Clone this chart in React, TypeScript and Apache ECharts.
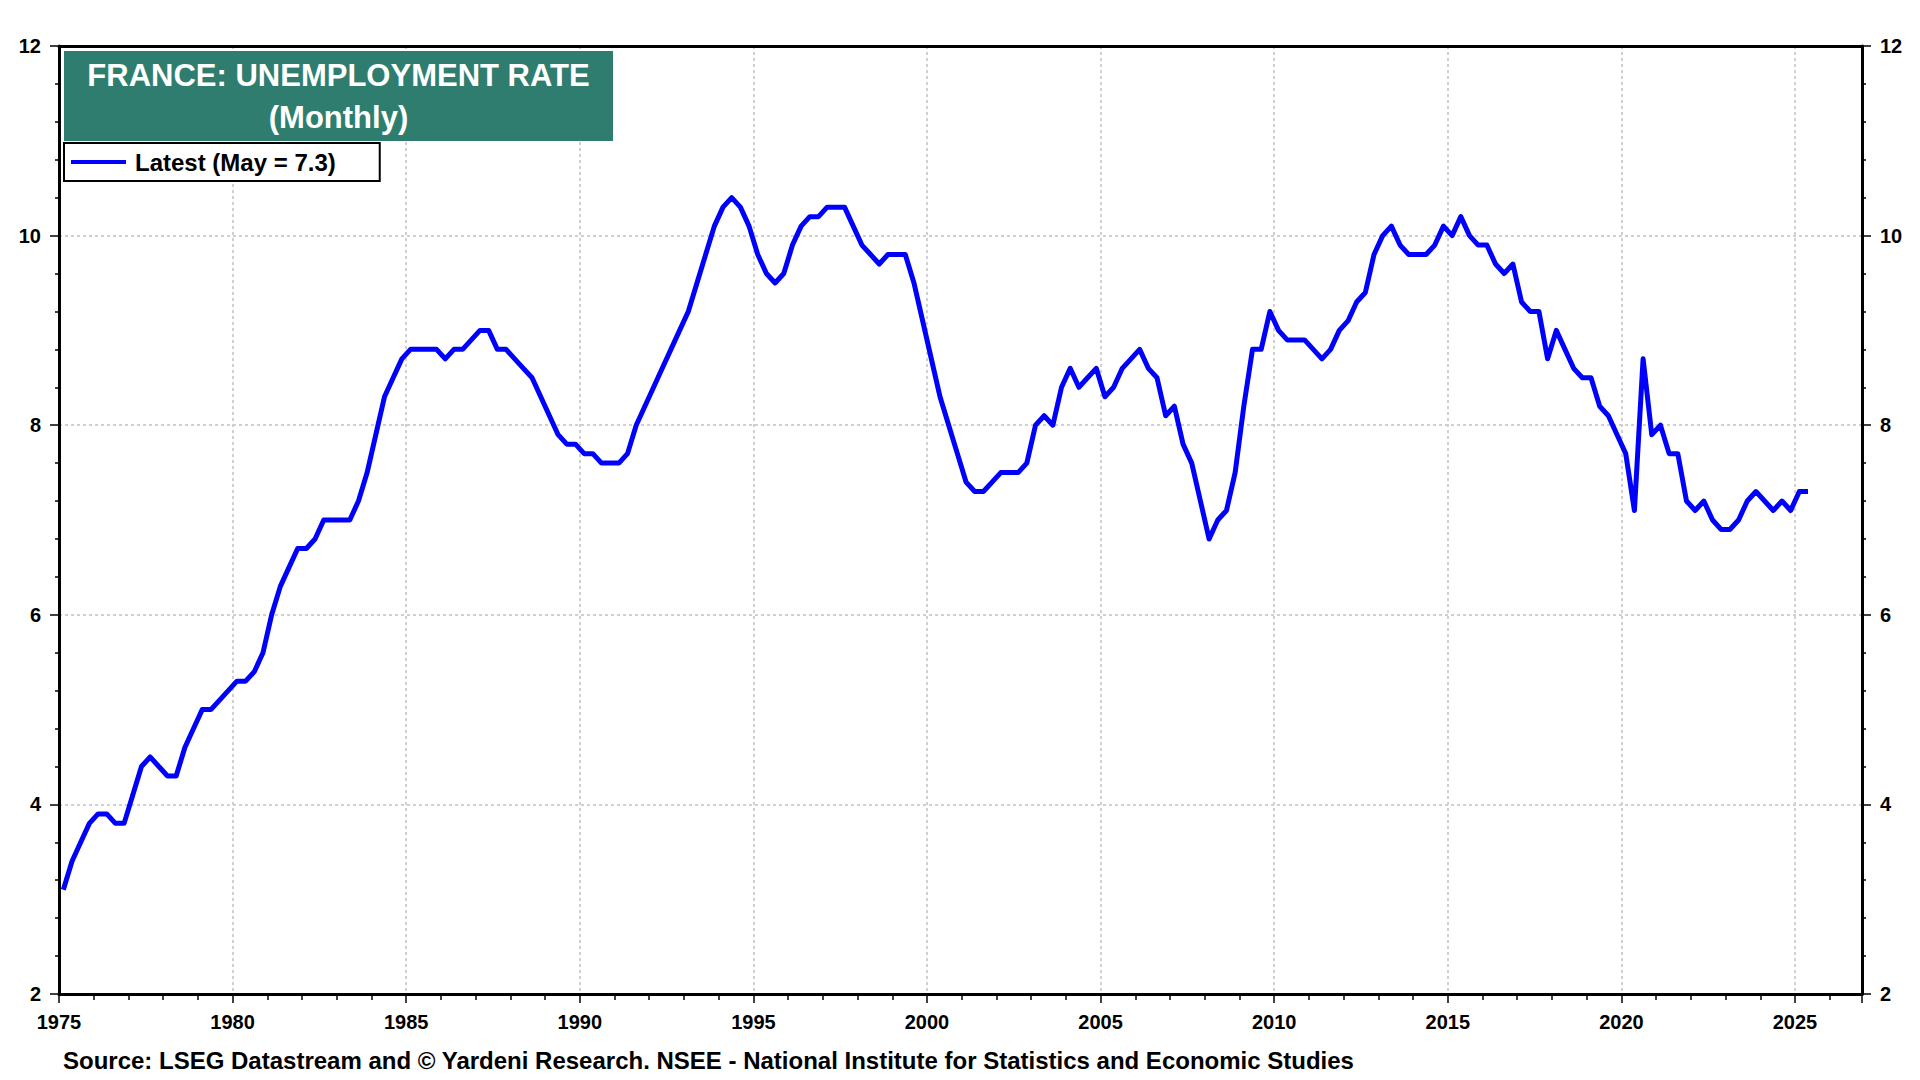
import React, { useEffect, useRef } from "react";
import * as echarts from "echarts";

// Quarterly unemployment rate (%), plotted at the middle month of each quarter
const START_YEAR = 1975;
const QUARTER_MONTHS = [2, 5, 8, 11];

const rate1975to1984 = [
  3.1, 3.4, 3.6, 3.8,
  3.9, 3.9, 3.8, 3.8,
  4.1, 4.4, 4.5, 4.4,
  4.3, 4.3, 4.6, 4.8,
  5.0, 5.0, 5.1, 5.2,
  5.3, 5.3, 5.4, 5.6,
  6.0, 6.3, 6.5, 6.7,
  6.7, 6.8, 7.0, 7.0,
  7.0, 7.0, 7.2, 7.5,
  7.9, 8.3, 8.5, 8.7,
];
const rate1985to1994 = [
  8.8, 8.8, 8.8, 8.8,
  8.7, 8.8, 8.8, 8.9,
  9.0, 9.0, 8.8, 8.8,
  8.7, 8.6, 8.5, 8.3,
  8.1, 7.9, 7.8, 7.8,
  7.7, 7.7, 7.6, 7.6,
  7.6, 7.7, 8.0, 8.2,
  8.4, 8.6, 8.8, 9.0,
  9.2, 9.5, 9.8, 10.1,
  10.3, 10.4, 10.3, 10.1,
];
const rate1995to2004 = [
  9.8, 9.6, 9.5, 9.6,
  9.9, 10.1, 10.2, 10.2,
  10.3, 10.3, 10.3, 10.1,
  9.9, 9.8, 9.7, 9.8,
  9.8, 9.8, 9.5, 9.1,
  8.7, 8.3, 8.0, 7.7,
  7.4, 7.3, 7.3, 7.4,
  7.5, 7.5, 7.5, 7.6,
  8.0, 8.1, 8.0, 8.4,
  8.6, 8.4, 8.5, 8.6,
];
const rate2005to2014 = [
  8.3, 8.4, 8.6, 8.7,
  8.8, 8.6, 8.5, 8.1,
  8.2, 7.8, 7.6, 7.2,
  6.8, 7.0, 7.1, 7.5,
  8.2, 8.8, 8.8, 9.2,
  9.0, 8.9, 8.9, 8.9,
  8.8, 8.7, 8.8, 9.0,
  9.1, 9.3, 9.4, 9.8,
  10.0, 10.1, 9.9, 9.8,
  9.8, 9.8, 9.9, 10.1,
];
const rate2015to2025 = [
  10.0, 10.2, 10.0, 9.9,
  9.9, 9.7, 9.6, 9.7,
  9.3, 9.2, 9.2, 8.7,
  9.0, 8.8, 8.6, 8.5,
  8.5, 8.2, 8.1, 7.9,
  7.7, 7.1, 8.7, 7.9,
  8.0, 7.7, 7.7, 7.2,
  7.1, 7.2, 7.0, 6.9,
  6.9, 7.0, 7.2, 7.3,
  7.2, 7.1, 7.2, 7.1,
  7.3, 7.3,
];

const SERIES_NAME = "Latest (May = 7.3)";
const TITLE_LINES = ["FRANCE: UNEMPLOYMENT RATE", "(Monthly)"];
const SOURCE_TEXT =
  "Source: LSEG Datastream and \u00A9 Yardeni Research. NSEE - National Institute for Statistics and Economic Studies";

const X_MIN = 1975;
const X_MAX = 2026.93;
const X_INTERVAL = 5;
const Y_MIN = 2;
const Y_MAX = 12;
const Y_INTERVAL = 2;

const FONT = '"Liberation Sans", Arial, Helvetica, sans-serif';

export default function App() {
  const ref = useRef<HTMLDivElement>(null);

  useEffect(() => {
    if (!ref.current) return;
    const chart = echarts.init(ref.current, null, { renderer: "svg" });

    const values = [
      ...rate1975to1984,
      ...rate1985to1994,
      ...rate1995to2004,
      ...rate2005to2014,
      ...rate2015to2025,
    ];
    const data = values.map((v, i) => {
      const year = START_YEAR + Math.floor(i / 4);
      const month = QUARTER_MONTHS[i % 4];
      return [year + (month - 0.5) / 12, v];
    });

    const axisLabel = {
      color: "#000",
      fontWeight: "bold" as const,
      fontSize: 20,
      fontFamily: FONT,
      margin: 18,
    };
    const splitLine = {
      show: true,
      showMinLine: false,
      showMaxLine: false,
      lineStyle: { color: "#d0d0d0", width: 2, type: [3, 3] as number[] },
    };
    const blackAxisLine = { show: true, onZero: false, lineStyle: { color: "#000", width: 3 } };

    const yAxisBase = (position: "left" | "right", showSplit: boolean) => ({
      type: "value" as const,
      position,
      min: Y_MIN,
      max: Y_MAX,
      interval: Y_INTERVAL,
      axisLine: blackAxisLine,
      axisTick: { show: true, length: 9, lineStyle: { color: "#000", width: 1.5 } },
      minorTick: { show: true, splitNumber: 5, length: 4, lineStyle: { color: "#000", width: 1.5 } },
      axisLabel: { ...axisLabel },
      splitLine: showSplit ? splitLine : { show: false },
    });

    chart.setOption({
      animation: false,
      backgroundColor: "#fff",
      grid: {
        left: 59,
        right: 58,
        top: 46,
        bottom: 86,
        show: false,
      },
      legend: {
        show: true,
        data: [SERIES_NAME],
        left: 64,
        top: 143,
        orient: "horizontal",
        icon: "rect",
        itemWidth: 55,
        itemHeight: 4,
        padding: [7, 44, 7, 7],
        borderColor: "#000",
        borderWidth: 2,
        backgroundColor: "#fff",
        textStyle: {
          color: "#000",
          fontWeight: "bold",
          fontSize: 24,
          fontFamily: FONT,
          padding: [0, 0, 0, 4],
        },
        selectedMode: false,
        z: 20,
      },
      xAxis: [
        {
          type: "value",
          position: "bottom",
          min: X_MIN,
          max: X_MAX,
          interval: X_INTERVAL,
          axisLine: blackAxisLine,
          axisTick: { show: true, length: 9, lineStyle: { color: "#000", width: 1.5 } },
          minorTick: { show: true, splitNumber: 5, length: 6, lineStyle: { color: "#000", width: 1.5 } },
          axisLabel: {
            ...axisLabel,
            showMaxLabel: false,
            formatter: (v: number) => String(Math.round(v)),
          },
          splitLine,
        },
        {
          type: "value",
          position: "top",
          min: X_MIN,
          max: X_MAX,
          interval: X_INTERVAL,
          axisLine: blackAxisLine,
          axisTick: { show: false },
          axisLabel: { show: false },
          splitLine: { show: false },
        },
      ],
      yAxis: [yAxisBase("left", true), yAxisBase("right", false)],
      series: [
        {
          name: SERIES_NAME,
          type: "line",
          data,
          xAxisIndex: 0,
          yAxisIndex: 0,
          symbol: "none",
          showSymbol: false,
          lineStyle: { color: "#0000ff", width: 5, join: "round" },
          itemStyle: { color: "#0000ff" },
          z: 3,
        },
      ],
      graphic: [
        {
          type: "rect",
          shape: { x: 64, y: 51, width: 549, height: 90 },
          style: { fill: "#2e7d6f" },
          z: 100,
        },
        {
          type: "text",
          x: 338.5,
          y: 96,
          z: 101,
          style: {
            text: TITLE_LINES.join("\n"),
            fill: "#fff",
            font: `bold 31px ${FONT}`,
            textAlign: "center",
            textVerticalAlign: "middle",
            lineHeight: 42,
          },
        },
        {
          type: "text",
          x: 63,
          y: 1060,
          z: 101,
          style: {
            text: SOURCE_TEXT,
            fill: "#000",
            font: `bold 24px ${FONT}`,
            textAlign: "left",
            textVerticalAlign: "middle",
          },
        },
      ],
    });

    return () => chart.dispose();
  }, []);

  return (
    <div
      ref={ref}
      style={{ position: "fixed", left: 0, top: 0, width: 1920, height: 1080, background: "#fff" }}
    />
  );
}
